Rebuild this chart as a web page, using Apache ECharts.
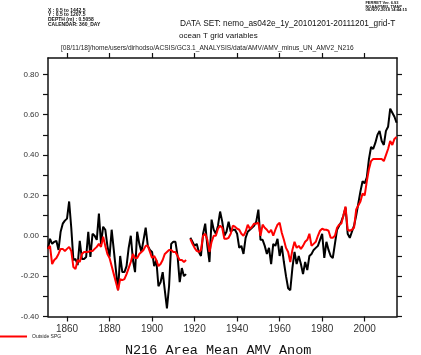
<!DOCTYPE html>
<html>
<head>
<meta charset="utf-8">
<script src="https://cdn.jsdelivr.net/npm/echarts@6/dist/echarts.min.js"></script>
<style>html,body{margin:0;padding:0;background:#fff}#c{width:421px;height:355px}</style>
</head>
<body>
<div id="c"></div>
<script>
// Annual values, 1851..2015 (null = missing year)
var startYear = 1851;
var allRegion = [
  -0.065,-0.015,-0.04,-0.03,-0.025,-0.07,0.02,0.06,0.075,0.085,
  0.17,0.04,-0.12,-0.115,-0.145,-0.025,-0.115,-0.115,-0.105,0.02,
  -0.105,0.01,0.0,-0.02,0.11,-0.04,0.045,0.03,-0.05,-0.105,
  0.03,-0.07,-0.17,-0.27,-0.10,-0.18,-0.18,-0.15,-0.06,0.0,
  -0.12,-0.18,0.02,-0.04,-0.08,-0.02,0.04,-0.05,-0.07,-0.08,
  -0.15,-0.12,-0.25,-0.23,-0.18,-0.27,-0.36,-0.25,-0.04,-0.03,
  -0.03,-0.10,-0.23,-0.16,-0.20,-0.19,null,-0.01,-0.03,-0.05,
  -0.04,-0.08,-0.10,0.01,0.06,-0.05,-0.13,0.08,0.03,0.01,
  0.05,0.12,0.07,0.0,0.02,0.07,0.02,0.03,0.03,0.01,
  -0.06,-0.05,-0.09,-0.01,0.02,0.03,0.04,0.05,0.07,0.13,
  -0.02,-0.02,-0.05,-0.09,-0.06,-0.14,-0.04,-0.05,-0.015,-0.10,
  -0.05,-0.13,-0.20,-0.26,-0.27,-0.16,-0.08,-0.14,-0.10,-0.14,
  -0.19,-0.13,-0.17,-0.10,-0.09,-0.07,-0.06,-0.05,-0.02,0.01,
  -0.11,-0.03,-0.07,-0.10,-0.11,-0.04,0.03,0.05,0.07,0.10,
  0.14,0.01,-0.01,0.02,0.05,0.10,0.16,0.22,0.27,0.26,
  0.29,0.38,0.44,0.43,0.46,0.50,0.52,0.47,0.45,0.52,
  0.54,0.63,0.61,0.59,0.56
];
var outsideSPG = [
  -0.065,-0.05,-0.14,-0.12,-0.11,-0.09,-0.065,-0.065,-0.075,-0.065,
  -0.055,-0.075,-0.155,-0.165,-0.12,-0.13,-0.09,-0.08,-0.08,-0.08,
  -0.075,-0.075,-0.065,-0.055,-0.04,-0.055,-0.005,-0.05,-0.09,-0.11,
  -0.15,-0.19,-0.23,-0.27,-0.215,-0.22,-0.215,-0.19,-0.16,-0.13,
  -0.09,-0.11,-0.11,-0.09,-0.08,-0.07,-0.05,-0.05,-0.08,-0.11,
  -0.10,-0.12,-0.15,-0.14,-0.12,-0.09,-0.08,-0.07,-0.07,-0.08,
  -0.08,-0.10,-0.12,-0.12,-0.13,-0.12,null,-0.015,-0.04,-0.06,
  -0.075,-0.08,-0.07,0.00,0.01,-0.02,-0.08,-0.03,0.00,0.00,
  0.035,0.05,0.04,-0.015,-0.015,-0.01,0.01,0.05,0.045,0.035,
  0.03,0.01,0.00,0.02,0.055,0.035,0.045,0.06,0.06,0.065,
  0.0,0.055,0.04,0.03,0.015,0.03,0.0,0.03,0.055,0.065,
  0.015,-0.02,-0.06,-0.08,-0.13,-0.07,-0.03,-0.06,-0.05,-0.065,
  -0.05,-0.03,-0.02,0.01,-0.05,-0.04,-0.03,0.00,0.025,0.035,
  0.03,0.03,0.025,-0.01,-0.01,0.00,0.04,0.055,0.06,0.10,
  0.145,0.03,0.025,0.03,0.04,0.13,0.15,0.17,0.21,0.20,
  0.27,0.33,0.37,0.38,0.38,0.38,0.38,0.38,0.37,0.40,
  0.43,0.47,0.45,0.48,0.49
];
var xTickYears = [1860,1880,1900,1920,1940,1960,1980,2000];
var yTickValues = [-0.4,-0.3,-0.2,-0.1,0,0.1,0.2,0.3,0.4,0.5,0.6,0.7,0.8];
var yLabelValues = [-0.4,-0.2,0,0.2,0.4,0.6,0.8];

function pairs(arr){
  var out = [];
  for (var i = 0; i < arr.length; i++) out.push([startYear + i, arr[i]]);
  return out;
}

var chart = echarts.init(document.getElementById('c'), null, {renderer:'canvas'});
var axisLine = {show:true, onZero:false, lineStyle:{color:'#111', width:1.5}};
var baseX = {
  type:'value', min:1851.06, max:2015.2,
  axisLine: axisLine,
  splitLine:{show:false},
  axisTick:{show:true, inside:false, length:5, customValues:xTickYears, lineStyle:{color:'#111', width:1.2}}
};
var baseY = {
  type:'value', min:-0.4, max:0.881,
  axisLine: axisLine,
  splitLine:{show:false},
  axisTick:{show:true, inside:false, length:5, customValues:yTickValues, lineStyle:{color:'#111', width:1.2}}
};
var fontSans = 'Liberation Sans, Arial, sans-serif';

chart.setOption({
  animation:false,
  backgroundColor:'#fff',
  grid:{left:48, right:24, top:58, bottom:38.5, containLabel:false},
  xAxis:[
    Object.assign({}, baseX, {position:'bottom',
      axisLabel:{show:true, customValues:xTickYears, formatter:function(v){return String(v);}, fontSize:10, color:'#333', margin:8, fontFamily:fontSans}}),
    Object.assign({}, baseX, {position:'top', axisLabel:{show:false}})
  ],
  yAxis:[
    Object.assign({}, baseY, {position:'left',
      axisLabel:{show:true, customValues:yLabelValues, formatter:function(v){return (Math.abs(v)<1e-9?0:v).toFixed(2);}, fontSize:8, color:'#333', margin:9, fontFamily:fontSans}}),
    Object.assign({}, baseY, {position:'right', axisLabel:{show:false}})
  ],
  legend:{
    data:['Outside SPG'], left:0, top:334, padding:0,
    icon:'rect', itemWidth:27, itemHeight:2, itemGap:5,
    textStyle:{fontSize:5, color:'#222', fontFamily:fontSans}
  },
  series:[
    {name:'All region', type:'line', data:pairs(allRegion), showSymbol:false, connectNulls:false,
     lineStyle:{color:'#000', width:2}, itemStyle:{color:'#000'}},
    {name:'Outside SPG', type:'line', data:pairs(outsideSPG), showSymbol:false, connectNulls:false,
     lineStyle:{color:'#ff0000', width:2}, itemStyle:{color:'#ff0000'}}
  ],
  graphic:[
    {type:'text', left:48, top:8, style:{text:'X : 0.5 to 1442.5\nY : 0.5 to 1207.5\nDEPTH (m) : 0.5058\nCALENDAR: 360_DAY', font:'bold 5px Liberation Sans, Arial, sans-serif', fill:'#111', lineHeight:4.6}},
    {type:'text', right:14, top:1, style:{text:'FERRET Ver. 6.93\nNOAA/PMEL TMAP\n08-NOV-2018 14:44:15', font:'bold 4px Liberation Sans, Arial, sans-serif', fill:'#111', align:'right', lineHeight:3.4}},
    {type:'text', left:180, top:20, style:{text:'DATA SET: nemo_as042e_1y_20101201-20111201_grid-T', font:'8.3px Liberation Sans, Arial, sans-serif', fill:'#111'}},
    {type:'text', left:179, top:32, style:{text:'ocean T grid variables', font:'8px Liberation Sans, Arial, sans-serif', fill:'#111'}},
    {type:'text', left:61, top:44.5, style:{text:'[08/11/18]/home/users/dirhodso/ACSIS/GC3.1_ANALYSIS/data/AMV/AMV_minus_UN_AMV2_N216', font:'6.6px Liberation Sans, Arial, sans-serif', fill:'#222'}},
    {type:'text', left:125, top:343, style:{text:'N216 Area Mean AMV Anom', font:'13.5px Liberation Mono, Courier New, monospace', fill:'#111'}}
  ]
});
</script>
</body>
</html>
